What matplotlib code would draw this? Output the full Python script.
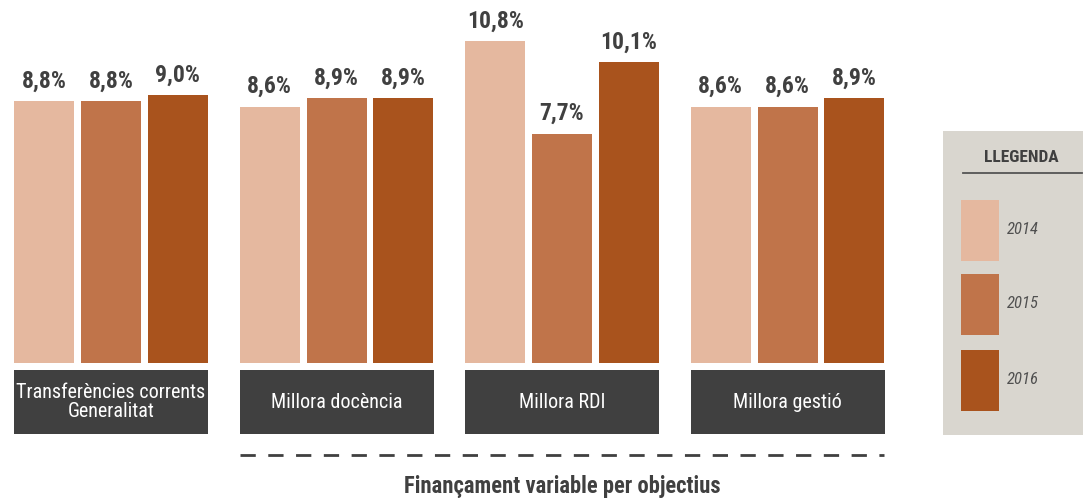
import matplotlib
matplotlib.use("Agg")
import matplotlib.pyplot as plt
from matplotlib.patches import Rectangle
from matplotlib import font_manager as fm

# ---- data ----
categories = ["Transferències corrents\nGeneralitat", "Millora docència", "Millora RDI", "Millora gestió"]
years = ["2014", "2015", "2016"]
values_2014 = [8.8, 8.6, 10.8, 8.6]
values_2015 = [8.8, 8.9, 7.7, 8.6]
values_2016 = [9.0, 8.9, 10.1, 8.9]
series = [values_2014, values_2015, values_2016]
colors = ["#e5b89f", "#c0744a", "#a9531d"]
group_title = "Finançament variable per objectius"
legend_title = "LLEGENDA"

# ---- fonts ----
available = {f.name for f in fm.fontManager.ttflist}
cond = None
for cand in ["Liberation Sans Narrow", "Roboto Condensed", "Open Sans Condensed", "DejaVu Sans Condensed"]:
    if cand in available:
        cond = cand
        break
FAM = [cond, "DejaVu Sans"] if cond else ["DejaVu Sans"]
STRETCH = "normal" if cond else "condensed"

W, H = 1083, 500
fig = plt.figure(figsize=(W / 100, H / 100), dpi=100)
ax = fig.add_axes([0, 0, 1, 1])
ax.set_axis_off()

px_per_pct = 29.8
base_px = 363
ax.set_ylim(-(H - base_px) / px_per_pct, base_px / px_per_pct)
unit = 225.5
c0 = 111
ax.set_xlim(-c0 / unit, (W - c0) / unit)

bar_w = 60 / unit
step = 66.7 / unit
dark = "#404040"

for g, cat in enumerate(categories):
    for i, vals in enumerate(series):
        x = g + (i - 1) * step
        ax.bar(x, vals[g], width=bar_w, color=colors[i], linewidth=0)
        ax.text(x, vals[g] + 20 / px_per_pct, f"{vals[g]:.1f}%".replace(".", ","),
                ha="center", va="center", fontsize=17, fontweight="bold",
                color=dark, family=FAM, fontstretch=STRETCH)
    # category box
    bw = 194 / unit
    y0 = -(434 - base_px) / px_per_pct
    y1 = -(370 - base_px) / px_per_pct
    ax.add_patch(Rectangle((g - bw / 2, y0), bw, y1 - y0, color="#404040", linewidth=0))
    ax.text(g, (y0 + y1) / 2, cat, ha="center", va="center", color="white",
            fontsize=14.5, family=FAM, fontstretch=STRETCH, linespacing=1.0)

# dashed separator
yd = -(455 - base_px) / px_per_pct
ax.plot([1 - 96.5 / unit, 3 + 96.5 / unit], [yd, yd], color="#404040", lw=2,
        dashes=(5.5, 4.5), solid_capstyle="butt")
ax.text(2, -(487 - base_px) / px_per_pct, group_title, ha="center", va="center",
        fontsize=16.3, fontweight="bold", color=dark, family=FAM, fontstretch=STRETCH)

# legend panel (figure pixel coords)
def fx(p):
    return p / W
def fy(p):
    return 1 - p / H

fig.patches.append(Rectangle((fx(943), fy(435)), fx(1083) - fx(943), fy(131) - fy(435),
                             transform=fig.transFigure, color="#d9d6cf", linewidth=0, zorder=0))
fig.text(fx(1021), fy(157), legend_title, ha="center", va="center", fontsize=12.5,
         fontweight="bold", color=dark, family=FAM, fontstretch=STRETCH)
fig.add_artist(plt.Line2D([fx(963), fx(1082)], [fy(173), fy(173)], transform=fig.transFigure,
                          color="#555555", lw=1.3))
sw_tops = [200, 274, 350]
for i, yr in enumerate(years):
    t = sw_tops[i]
    fig.patches.append(Rectangle((fx(961), fy(t + 61)), fx(999) - fx(961), fy(t) - fy(t + 61),
                                 transform=fig.transFigure, color=colors[i], linewidth=0))
    fig.text(fx(1007), fy(t + 30), yr, ha="left", va="center", fontsize=12,
             style="italic", color="#505050", family=FAM, fontstretch=STRETCH)

fig.savefig("out.png", dpi=100)
